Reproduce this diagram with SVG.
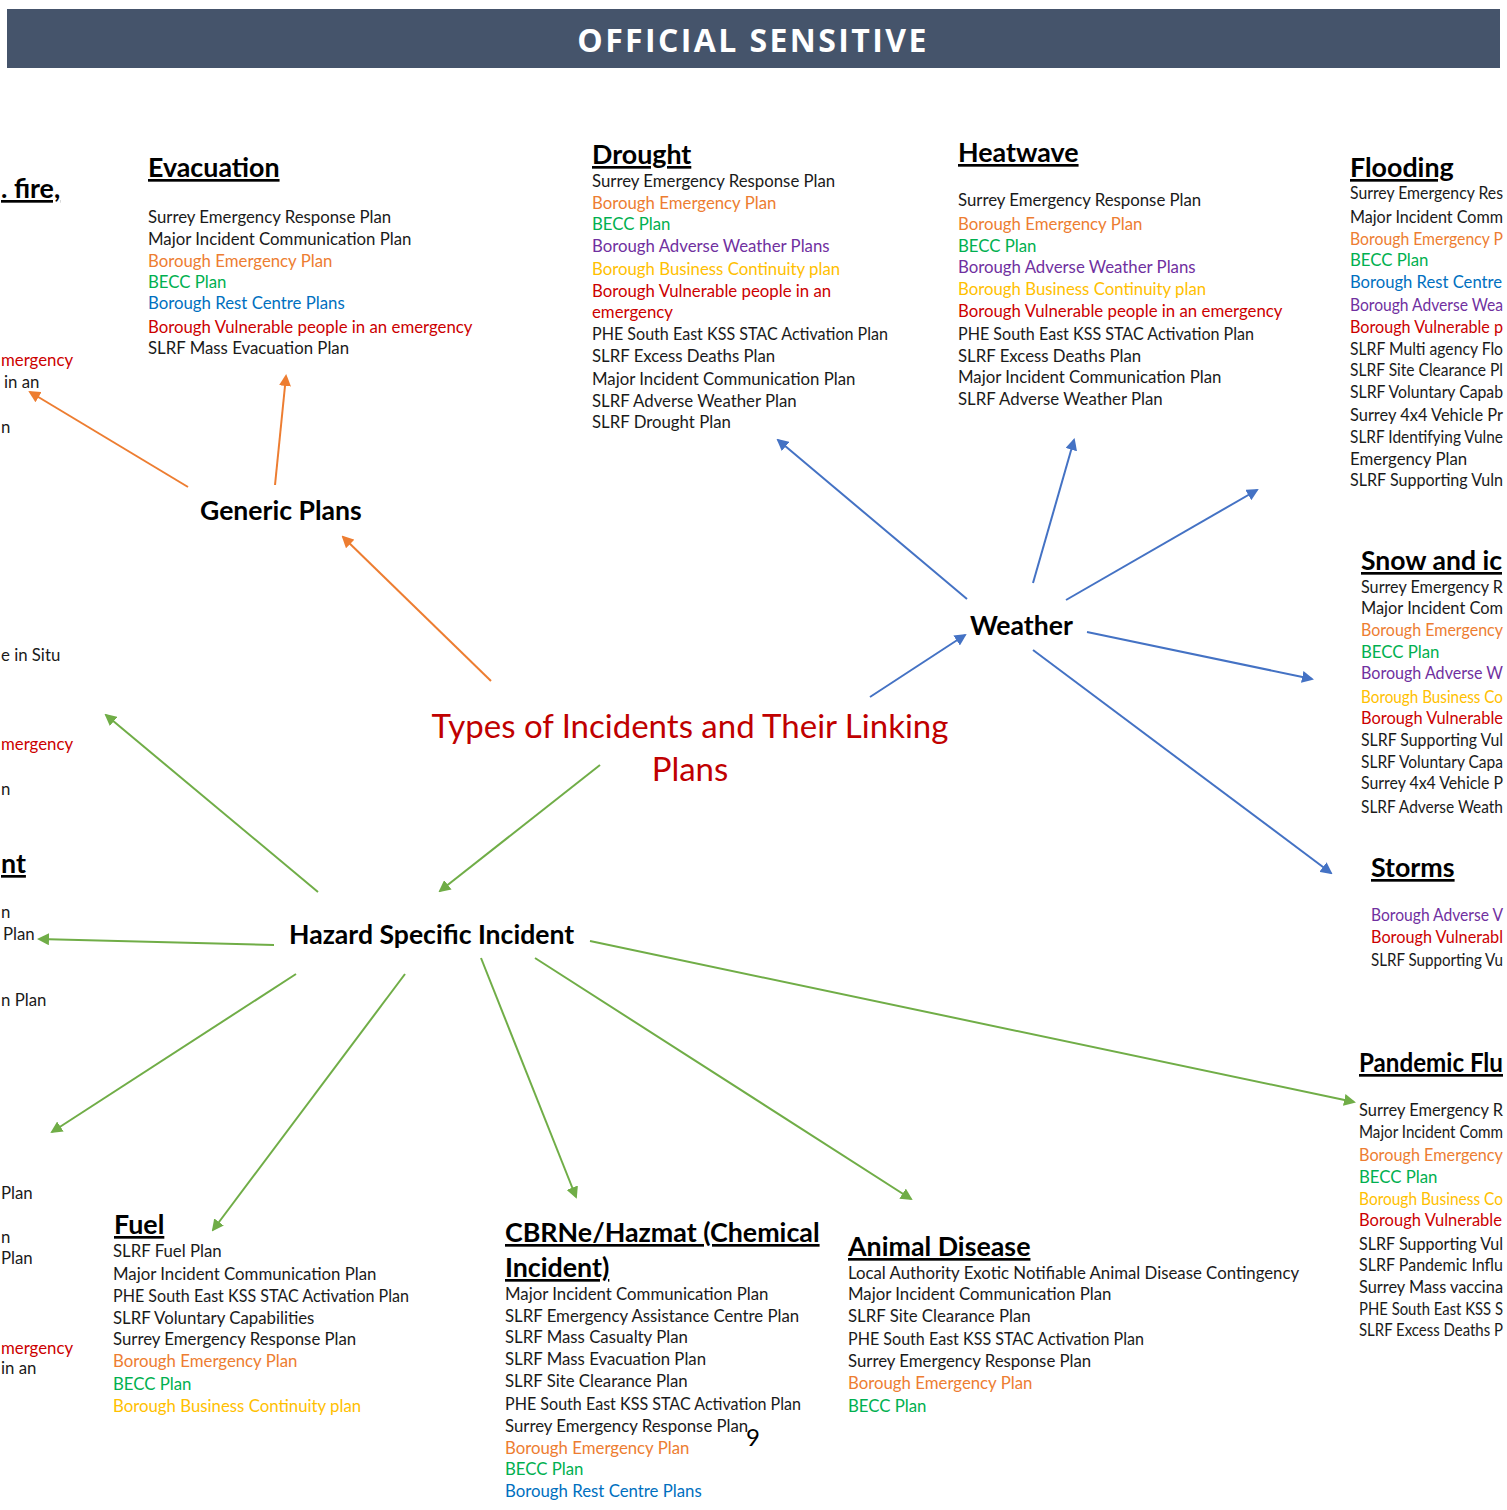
<svg xmlns="http://www.w3.org/2000/svg" width="1507" height="1510" viewBox="0 0 1507 1510">
<style>
text{font-family:Lato,"Open Sans","Liberation Sans",sans-serif;}
.t{font-size:16.8px;fill:#1a1a1a;}
.h{font-size:26.8px;font-weight:bold;fill:#000;text-decoration:underline;}
.hub{font-size:26.6px;font-weight:bold;fill:#000;}
.o{fill:#ED7D31;} .g{fill:#00B050;} .b{fill:#0070C0;} .p{fill:#7030A0;} .y{fill:#FFC000;} .r{fill:#CC0000;}
.co{stroke:#ED7D31;stroke-width:2;fill:none;marker-end:url(#ao);}
.cb{stroke:#4472C4;stroke-width:2;fill:none;marker-end:url(#ab);}
.cg{stroke:#70AD47;stroke-width:2;fill:none;marker-end:url(#ag);}
</style>
<defs>
<marker id="ao" markerWidth="6" markerHeight="6" refX="5" refY="3" orient="auto" markerUnits="strokeWidth"><path d="M0,0 L6,3 L0,6 z" fill="#ED7D31"/></marker>
<marker id="ab" markerWidth="6" markerHeight="6" refX="5" refY="3" orient="auto" markerUnits="strokeWidth"><path d="M0,0 L6,3 L0,6 z" fill="#4472C4"/></marker>
<marker id="ag" markerWidth="6" markerHeight="6" refX="5" refY="3" orient="auto" markerUnits="strokeWidth"><path d="M0,0 L6,3 L0,6 z" fill="#70AD47"/></marker>
</defs>
<rect width="1507" height="1510" fill="#fff"/>
<g id="header">
<rect x="7" y="9" width="1493" height="59" fill="#45546B"/>
<text x="753" y="52" text-anchor="middle" style="font-size:32px;font-weight:bold;fill:#fff;letter-spacing:2.4px;font-family:'Open Sans',sans-serif">OFFICIAL SENSITIVE</text>
</g>
<g id="connectors">
<line class="co" x1="491" y1="681" x2="343" y2="537"/>
<line class="co" x1="188" y1="487" x2="30" y2="392"/>
<line class="co" x1="275" y1="485" x2="286" y2="376"/>
<line class="cb" x1="870" y1="697" x2="965" y2="635"/>
<line class="cb" x1="967" y1="599" x2="778" y2="440"/>
<line class="cb" x1="1033" y1="583" x2="1074" y2="440"/>
<line class="cb" x1="1066" y1="600" x2="1257" y2="490"/>
<line class="cb" x1="1087" y1="632" x2="1312" y2="679"/>
<line class="cb" x1="1033" y1="650" x2="1331" y2="873"/>
<line class="cg" x1="600" y1="765" x2="440" y2="891"/>
<line class="cg" x1="318" y1="892" x2="106" y2="715"/>
<line class="cg" x1="274" y1="945" x2="39" y2="939"/>
<line class="cg" x1="296" y1="974" x2="52" y2="1132"/>
<line class="cg" x1="405" y1="974" x2="213" y2="1230"/>
<line class="cg" x1="481" y1="958" x2="576" y2="1197"/>
<line class="cg" x1="535" y1="958" x2="911" y2="1199"/>
<line class="cg" x1="590" y1="941" x2="1354" y2="1102"/>
</g>
<g id="title">
<text x="690" y="738" text-anchor="middle" style="font-size:33px;fill:#C00000">Types of Incidents and Their Linking</text>
<text x="690" y="781" text-anchor="middle" style="font-size:33px;fill:#C00000">Plans</text>
</g>
<g id="generic-plans"><text class="hub" x="200" y="520">Generic Plans</text></g>
<g id="weather"><text class="hub" x="970" y="635">Weather</text></g>
<g id="hazard-specific"><text class="hub" x="289" y="944">Hazard Specific Incident</text></g>
<g id="left-fragments">
<text class="h" x="1" y="198">. fire,</text>
<text class="t r" x="1" y="366">mergency</text>
<text class="t" x="4" y="388">in an</text>
<text class="t" x="1" y="433">n</text>
<text class="t" x="1" y="661">e in Situ</text>
<text class="t r" x="1" y="750">mergency</text>
<text class="t" x="1" y="795">n</text>
<text class="h" x="1" y="873">nt</text>
<text class="t" x="1" y="918">n</text>
<text class="t" x="3" y="940">Plan</text>
<text class="t" x="1" y="1006">n Plan</text>
<text class="t" x="1" y="1199">Plan</text>
<text class="t" x="1" y="1243">n</text>
<text class="t" x="1" y="1264">Plan</text>
<text class="t r" x="1" y="1354">mergency</text>
<text class="t" x="1" y="1374">in an</text>
</g>
<g id="evacuation">
<text class="h" x="148" y="177">Evacuation</text>
<text class="t" x="148" y="223">Surrey Emergency Response Plan</text>
<text class="t" x="148" y="245">Major Incident Communication Plan</text>
<text class="t o" x="148" y="267">Borough Emergency Plan</text>
<text class="t g" x="148" y="288">BECC Plan</text>
<text class="t b" x="148" y="309">Borough Rest Centre Plans</text>
<text class="t r" x="148" y="333">Borough Vulnerable people in an emergency</text>
<text class="t" x="148" y="354">SLRF Mass Evacuation Plan</text>
</g>
<g id="drought">
<text class="h" x="592" y="164">Drought</text>
<text class="t" x="592" y="187">Surrey Emergency Response Plan</text>
<text class="t o" x="592" y="209">Borough Emergency Plan</text>
<text class="t g" x="592" y="230">BECC Plan</text>
<text class="t p" x="592" y="252">Borough Adverse Weather Plans</text>
<text class="t y" x="592" y="275">Borough Business Continuity plan</text>
<text class="t r" x="592" y="297">Borough Vulnerable people in an</text>
<text class="t r" x="592" y="318">emergency</text>
<text class="t" x="592" y="340" textLength="296" lengthAdjust="spacingAndGlyphs">PHE South East KSS STAC Activation Plan</text>
<text class="t" x="592" y="362">SLRF Excess Deaths Plan</text>
<text class="t" x="592" y="385">Major Incident Communication Plan</text>
<text class="t" x="592" y="407">SLRF Adverse Weather Plan</text>
<text class="t" x="592" y="428">SLRF Drought Plan</text>
</g>
<g id="heatwave">
<text class="h" x="958" y="162">Heatwave</text>
<text class="t" x="958" y="206">Surrey Emergency Response Plan</text>
<text class="t o" x="958" y="230">Borough Emergency Plan</text>
<text class="t g" x="958" y="252">BECC Plan</text>
<text class="t p" x="958" y="273">Borough Adverse Weather Plans</text>
<text class="t y" x="958" y="295">Borough Business Continuity plan</text>
<text class="t r" x="958" y="317">Borough Vulnerable people in an emergency</text>
<text class="t" x="958" y="340" textLength="296" lengthAdjust="spacingAndGlyphs">PHE South East KSS STAC Activation Plan</text>
<text class="t" x="958" y="362">SLRF Excess Deaths Plan</text>
<text class="t" x="958" y="383">Major Incident Communication Plan</text>
<text class="t" x="958" y="405">SLRF Adverse Weather Plan</text>
</g>
<g id="flooding">
<text class="h" x="1350" y="177">Flooding</text>
<text class="t" x="1350" y="199" textLength="153" lengthAdjust="spacingAndGlyphs">Surrey Emergency Res</text>
<text class="t" x="1350" y="223" textLength="153" lengthAdjust="spacingAndGlyphs">Major Incident Comm</text>
<text class="t o" x="1350" y="245" textLength="153" lengthAdjust="spacingAndGlyphs">Borough Emergency P</text>
<text class="t g" x="1350" y="266">BECC Plan</text>
<text class="t b" x="1350" y="288" textLength="152" lengthAdjust="spacingAndGlyphs">Borough Rest Centre</text>
<text class="t p" x="1350" y="311" textLength="153" lengthAdjust="spacingAndGlyphs">Borough Adverse Wea</text>
<text class="t r" x="1350" y="333" textLength="153" lengthAdjust="spacingAndGlyphs">Borough Vulnerable p</text>
<text class="t" x="1350" y="355" textLength="153" lengthAdjust="spacingAndGlyphs">SLRF Multi agency Flo</text>
<text class="t" x="1350" y="376" textLength="153" lengthAdjust="spacingAndGlyphs">SLRF Site Clearance Pl</text>
<text class="t" x="1350" y="398" textLength="153" lengthAdjust="spacingAndGlyphs">SLRF Voluntary Capab</text>
<text class="t" x="1350" y="421" textLength="153" lengthAdjust="spacingAndGlyphs">Surrey 4x4 Vehicle Pr</text>
<text class="t" x="1350" y="443" textLength="153" lengthAdjust="spacingAndGlyphs">SLRF Identifying Vulne</text>
<text class="t" x="1350" y="465">Emergency Plan</text>
<text class="t" x="1350" y="486" textLength="153" lengthAdjust="spacingAndGlyphs">SLRF Supporting Vuln</text>
</g>
<g id="snow-and-ice">
<text class="h" x="1361" y="570" textLength="141" lengthAdjust="spacingAndGlyphs">Snow and ic</text>
<text class="t" x="1361" y="593" textLength="142" lengthAdjust="spacingAndGlyphs">Surrey Emergency R</text>
<text class="t" x="1361" y="614" textLength="142" lengthAdjust="spacingAndGlyphs">Major Incident Com</text>
<text class="t o" x="1361" y="636" textLength="142" lengthAdjust="spacingAndGlyphs">Borough Emergency</text>
<text class="t g" x="1361" y="658">BECC Plan</text>
<text class="t p" x="1361" y="679" textLength="142" lengthAdjust="spacingAndGlyphs">Borough Adverse W</text>
<text class="t y" x="1361" y="703" textLength="142" lengthAdjust="spacingAndGlyphs">Borough Business Co</text>
<text class="t r" x="1361" y="724" textLength="142" lengthAdjust="spacingAndGlyphs">Borough Vulnerable</text>
<text class="t" x="1361" y="746" textLength="142" lengthAdjust="spacingAndGlyphs">SLRF Supporting Vul</text>
<text class="t" x="1361" y="768" textLength="142" lengthAdjust="spacingAndGlyphs">SLRF Voluntary Capa</text>
<text class="t" x="1361" y="789" textLength="142" lengthAdjust="spacingAndGlyphs">Surrey 4x4 Vehicle P</text>
<text class="t" x="1361" y="813" textLength="142" lengthAdjust="spacingAndGlyphs">SLRF Adverse Weath</text>
</g>
<g id="storms">
<text class="h" x="1371" y="877">Storms</text>
<text class="t p" x="1371" y="921" textLength="132" lengthAdjust="spacingAndGlyphs">Borough Adverse V</text>
<text class="t r" x="1371" y="943" textLength="132" lengthAdjust="spacingAndGlyphs">Borough Vulnerabl</text>
<text class="t" x="1371" y="966" textLength="132" lengthAdjust="spacingAndGlyphs">SLRF Supporting Vu</text>
</g>
<g id="pandemic-flu">
<text class="h" x="1359" y="1072" textLength="144" lengthAdjust="spacingAndGlyphs">Pandemic Flu</text>
<text class="t" x="1359" y="1116" textLength="144" lengthAdjust="spacingAndGlyphs">Surrey Emergency R</text>
<text class="t" x="1359" y="1138" textLength="144" lengthAdjust="spacingAndGlyphs">Major Incident Comm</text>
<text class="t o" x="1359" y="1161" textLength="144" lengthAdjust="spacingAndGlyphs">Borough Emergency</text>
<text class="t g" x="1359" y="1183">BECC Plan</text>
<text class="t y" x="1359" y="1205" textLength="144" lengthAdjust="spacingAndGlyphs">Borough Business Co</text>
<text class="t r" x="1359" y="1226" textLength="143" lengthAdjust="spacingAndGlyphs">Borough Vulnerable</text>
<text class="t" x="1359" y="1250" textLength="144" lengthAdjust="spacingAndGlyphs">SLRF Supporting Vul</text>
<text class="t" x="1359" y="1271" textLength="144" lengthAdjust="spacingAndGlyphs">SLRF Pandemic Influ</text>
<text class="t" x="1359" y="1293" textLength="144" lengthAdjust="spacingAndGlyphs">Surrey Mass vaccina</text>
<text class="t" x="1359" y="1315" textLength="144" lengthAdjust="spacingAndGlyphs">PHE South East KSS S</text>
<text class="t" x="1359" y="1336" textLength="144" lengthAdjust="spacingAndGlyphs">SLRF Excess Deaths P</text>
</g>
<g id="fuel">
<text class="h" x="114" y="1234">Fuel</text>
<text class="t" x="113" y="1257">SLRF Fuel Plan</text>
<text class="t" x="113" y="1280">Major Incident Communication Plan</text>
<text class="t" x="113" y="1302" textLength="296" lengthAdjust="spacingAndGlyphs">PHE South East KSS STAC Activation Plan</text>
<text class="t" x="113" y="1324">SLRF Voluntary Capabilities</text>
<text class="t" x="113" y="1345">Surrey Emergency Response Plan</text>
<text class="t o" x="113" y="1367">Borough Emergency Plan</text>
<text class="t g" x="113" y="1390">BECC Plan</text>
<text class="t y" x="113" y="1412">Borough Business Continuity plan</text>
</g>
<g id="cbrne">
<text class="h" x="505" y="1242">CBRNe/Hazmat (Chemical</text>
<text class="h" x="505" y="1277">Incident)</text>
<text class="t" x="505" y="1300">Major Incident Communication Plan</text>
<text class="t" x="505" y="1322">SLRF Emergency Assistance Centre Plan</text>
<text class="t" x="505" y="1343">SLRF Mass Casualty Plan</text>
<text class="t" x="505" y="1365">SLRF Mass Evacuation Plan</text>
<text class="t" x="505" y="1387">SLRF Site Clearance Plan</text>
<text class="t" x="505" y="1410" textLength="296" lengthAdjust="spacingAndGlyphs">PHE South East KSS STAC Activation Plan</text>
<text class="t" x="505" y="1432">Surrey Emergency Response Plan</text>
<text class="t o" x="505" y="1454">Borough Emergency Plan</text>
<text class="t g" x="505" y="1475">BECC Plan</text>
<text class="t b" x="505" y="1497">Borough Rest Centre Plans</text>
</g>
<g id="animal-disease">
<text class="h" x="848" y="1256">Animal Disease</text>
<text class="t" x="848" y="1279">Local Authority Exotic Notifiable Animal Disease Contingency</text>
<text class="t" x="848" y="1300">Major Incident Communication Plan</text>
<text class="t" x="848" y="1322">SLRF Site Clearance Plan</text>
<text class="t" x="848" y="1345" textLength="296" lengthAdjust="spacingAndGlyphs">PHE South East KSS STAC Activation Plan</text>
<text class="t" x="848" y="1367">Surrey Emergency Response Plan</text>
<text class="t o" x="848" y="1389">Borough Emergency Plan</text>
<text class="t g" x="848" y="1412">BECC Plan</text>
</g>
<g id="page-number"><text x="746" y="1446" style="font-size:24px;fill:#000">9</text></g>
</svg>
